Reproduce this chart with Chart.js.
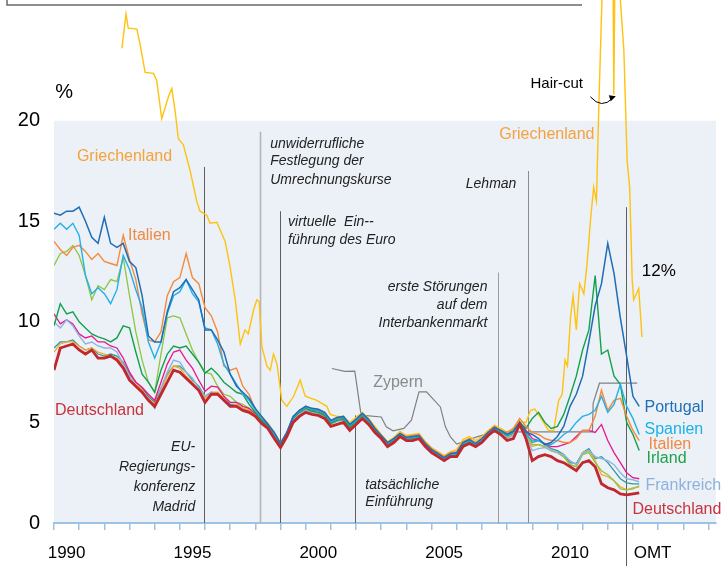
<!DOCTYPE html>
<html>
<head>
<meta charset="utf-8">
<script src="https://cdn.jsdelivr.net/npm/chart.js@4.4.0/dist/chart.umd.min.js"></script>
<style>
  html, body { margin: 0; padding: 0; background: #fff; }
  canvas { display: block; }
</style>
</head>
<body>
<canvas id="yieldChart" width="724" height="566"></canvas>
<script>
// quarterly time axis 1990.00 .. 2013.25
const quarters = [];
for (let i = 0; i <= 93; i++) quarters.push(1990 + i * 0.25);

const germany = [
  7.6, 8.7, 8.8, 8.9,   8.6, 8.4, 8.6, 8.2,   8.2, 8.3, 8.1, 7.7,   7.1, 6.8, 6.5, 6.1,
  5.8, 6.4, 7.0, 7.6,   7.5, 7.2, 6.9, 6.6,   6.0, 6.4, 6.4, 6.1,   5.8, 5.8, 5.6, 5.5,
  5.3, 4.95, 4.7, 4.2,  3.75, 4.3, 5.0, 5.3,  5.5, 5.4, 5.35, 5.2,  4.8, 4.9, 5.0, 4.6,
  4.9, 5.2, 4.9, 4.5,   4.2, 3.8, 4.0, 4.3,   4.1, 4.1, 4.2, 3.8,   3.5, 3.3, 3.1, 3.3,
  3.3, 3.8, 3.95, 3.8,  4.0, 4.35, 4.6, 4.4,  4.1, 4.2, 4.9, 4.2,   3.1, 3.3, 3.4, 3.3,
  3.1, 3.0, 2.8, 2.6,   3.0, 3.1, 2.8, 1.95,  1.75, 1.65, 1.45, 1.4, 1.45, 1.5
];
const netherlands = [
  8.5, 8.9, 9.0, 9.0,   8.8, 8.6, 8.7, 8.5,   8.4, 8.3, 8.2, 7.9,   7.3, 7.0, 6.6, 6.2,
  5.9, 6.6, 7.3, 7.8,   7.7, 7.3, 7.0, 6.6,   6.2, 6.5, 6.5, 6.2,   5.8, 5.9, 5.7, 5.6,
  5.4, 5.05, 4.8, 4.3,  3.9, 4.4, 5.15, 5.45, 5.65, 5.55, 5.5, 5.35, 4.95, 5.1, 5.15, 4.75,
  5.05, 5.35, 5.05, 4.6, 4.3, 3.95, 4.15, 4.4, 4.2, 4.25, 4.3, 3.9, 3.6, 3.4, 3.2, 3.4,
  3.4, 3.9, 4.05, 3.85, 4.05, 4.4, 4.7, 4.5,  4.25, 4.4, 5.0, 4.4,  3.8, 3.9, 3.8, 3.6,
  3.5, 3.3, 2.9, 2.8,   3.5, 3.6, 3.1, 2.4,   2.3, 2.1, 1.8, 1.65,  1.75, 1.8
];
const austria = [
  8.7, 9.0, 9.0, 9.1,   8.8, 8.6, 8.7, 8.4,   8.3, 8.4, 8.3, 8.0,   7.4, 7.0, 6.7, 6.3,
  6.0, 6.7, 7.4, 7.8,   7.8, 7.5, 7.1, 6.8,   6.3, 6.5, 6.4, 6.2,   5.9, 5.9, 5.7, 5.6,
  5.4, 5.1, 4.8, 4.3,   3.9, 4.45, 5.2, 5.5,  5.7, 5.6, 5.55, 5.4,  5.0, 5.15, 5.2, 4.8,
  5.1, 5.35, 5.05, 4.6, 4.3, 3.95, 4.15, 4.45, 4.25, 4.25, 4.35, 3.95, 3.6, 3.4, 3.2, 3.4,
  3.4, 3.95, 4.1, 3.9,  4.1, 4.45, 4.75, 4.55, 4.3, 4.45, 5.05, 4.5, 4.0, 4.1, 3.9, 3.7,
  3.6, 3.4, 3.0, 2.95,  3.5, 3.7, 3.2, 3.3,   3.0, 2.6, 2.2, 2.0,   1.95, 1.95
];
const belgium = [
  10.4, 9.9, 10.1, 9.9, 9.4, 9.2, 9.3, 9.0,   9.0, 8.8, 8.7, 8.2,   7.5, 7.0, 6.75, 6.4,
  6.1, 7.0, 7.9, 8.5,   8.6, 8.1, 7.7, 7.1,   6.55, 6.8, 6.75, 6.3, 6.0, 6.0, 5.8, 5.7,
  5.45, 5.15, 4.9, 4.4, 3.95, 4.5, 5.25, 5.55, 5.8, 5.65, 5.6, 5.45, 5.05, 5.2, 5.25, 4.85,
  5.1, 5.4, 5.1, 4.65, 4.35, 4.0, 4.2, 4.45, 4.25, 4.3, 4.35, 3.95, 3.65, 3.45, 3.25, 3.45,
  3.45, 3.95, 4.1, 3.9, 4.1, 4.45, 4.75, 4.55, 4.35, 4.5, 5.0, 4.6, 4.2, 4.1, 3.95, 3.8,
  3.8, 3.9, 4.0, 4.3,   4.6, 4.6, 4.5, 4.9,   4.1, 3.5, 3.0, 2.5,   2.25, 2.2
];
const france = [
  10.0, 9.7, 10.1, 9.8, 9.3, 8.9, 9.0, 8.8,   8.7, 8.7, 8.5, 7.9,   7.3, 6.85, 6.5, 6.2,
  5.7, 6.7, 7.5, 8.1,   8.0, 7.5, 7.2, 6.7,   6.3, 6.5, 6.4, 6.1,   5.8, 5.85, 5.6, 5.5,
  5.3, 5.0, 4.8, 4.25,  3.85, 4.35, 5.1, 5.4, 5.6, 5.5, 5.45, 5.3,  4.9, 5.05, 5.1, 4.7,
  5.0, 5.3, 5.0, 4.55,  4.25, 3.9, 4.1, 4.35, 4.15, 4.2, 4.25, 3.85, 3.55, 3.35, 3.15, 3.35,
  3.35, 3.9, 4.05, 3.85, 4.05, 4.4, 4.7, 4.45, 4.2, 4.35, 4.95, 4.35, 3.6, 3.7, 3.75, 3.6,
  3.5, 3.4, 3.1, 2.9,   3.45, 3.6, 3.3, 3.2,  3.1, 2.9, 2.5, 2.2,   2.15, 2.05
];
const finland = [
  12.8, 13.4, 13.5, 13.8, 13.3, 12.3, 11.1, 11.8, 11.6, 12.1, 12.0, 13.2, 11.3, 9.5, 8.1, 7.0,
  6.5, 8.4, 10.2, 10.3, 10.2, 9.4, 8.6, 8.0,  7.5, 7.4, 6.8, 6.4,   6.3, 6.0, 5.9, 5.7,
  5.3, 5.0, 4.75, 4.3,  3.9, 4.4, 5.2, 5.5,   5.7, 5.55, 5.5, 5.35, 4.95, 5.1, 5.15, 4.75,
  5.05, 5.35, 5.05, 4.6, 4.3, 3.9, 4.1, 4.4, 4.2, 4.2, 4.3, 3.9,   3.55, 3.3, 3.1, 3.35,
  3.4, 3.9, 4.05, 3.85, 4.05, 4.45, 4.7, 4.5, 4.25, 4.4, 5.0, 4.45, 3.9, 3.9, 3.8, 3.6,
  3.5, 3.3, 2.9, 2.8,   3.4, 3.5, 3.0, 2.6,   2.4, 2.1, 1.7, 1.65,  1.7, 1.85
];
const ireland = [
  9.8, 10.9, 10.4, 10.5, 10.0, 9.7, 9.4, 9.25, 9.15, 9.0, 9.2, 9.8,  9.7, 8.5, 7.4, 7.0,
  6.5, 7.6, 8.4, 8.8,   8.7, 8.8, 8.4, 8.0,   7.45, 7.7, 7.4, 7.0,  6.75, 6.5, 6.4, 5.9,
  5.5, 5.1, 4.8, 4.3,   3.9, 4.4, 5.2, 5.5,   5.7, 5.55, 5.5, 5.35, 4.95, 5.1, 5.15, 4.75,
  5.05, 5.35, 5.05, 4.6, 4.3, 3.9, 4.1, 4.4, 4.2, 4.2, 4.3, 3.9,   3.55, 3.3, 3.1, 3.35,
  3.4, 3.9, 4.05, 3.85, 4.1, 4.45, 4.75, 4.5, 4.4, 4.6, 5.0, 4.7,   5.2, 5.5, 5.0, 4.7,
  4.8, 5.4, 6.3, 7.3,   8.6, 9.6, 12.3, 8.4,  8.6, 7.3, 6.9, 5.0,   4.4, 3.6
];
const italy = [
  14.0, 13.6, 13.3, 13.7, 13.8, 13.5, 13.1, 13.4, 13.0, 12.9, 12.8, 14.3, 13.1, 12.1, 10.4, 9.1,
  9.0, 9.5, 11.3, 12.0, 12.2, 13.4, 12.2, 11.9, 10.7, 10.3, 9.5, 7.8, 7.6, 7.7, 6.8, 6.4,
  5.6, 5.3, 4.95, 4.5,  4.0, 4.5, 5.3, 5.6,   5.8, 5.7, 5.65, 5.5,  5.1, 5.25, 5.3, 4.9,
  5.15, 5.45, 5.15, 4.7, 4.35, 4.0, 4.2, 4.45, 4.3, 4.35, 4.4, 4.0, 3.7, 3.5, 3.3, 3.5,
  3.55, 4.05, 4.2, 4.0, 4.2, 4.55, 4.8, 4.6, 4.5, 4.7, 5.2, 4.8,   4.5, 4.4, 4.2, 4.1,
  4.1, 4.0, 4.0, 4.2,   4.6, 4.6, 5.3, 6.6,   5.6, 6.1, 6.2, 5.3,   4.6, 4.1
];
const spain = [
  14.6, 14.9, 14.6, 14.9, 14.3, 12.3, 11.4, 11.7, 11.4, 10.9, 11.6, 13.3, 12.6, 11.6, 10.7, 9.0,
  8.2, 9.0, 10.4, 11.3, 11.5, 12.1, 11.4, 11.0, 9.7, 9.6, 8.9, 7.9,  7.4, 6.9, 6.4, 6.1,
  5.6, 5.2, 4.9, 4.4,   3.95, 4.45, 5.25, 5.55, 5.75, 5.65, 5.6, 5.45, 5.05, 5.2, 5.25, 4.85,
  5.1, 5.4, 5.1, 4.65,  4.3, 3.95, 4.15, 4.4, 4.2, 4.25, 4.3, 3.9,  3.6, 3.4, 3.2, 3.4,
  3.45, 3.95, 4.1, 3.9, 4.1, 4.45, 4.75, 4.55, 4.35, 4.5, 5.0, 4.4, 4.1, 4.1, 3.9, 3.9,
  4.1, 4.4, 4.6, 5.0,   5.3, 5.4, 5.6, 6.3,   5.5, 5.9, 6.9, 5.8,   5.2, 4.4
];
const portugal = [
  15.4, 15.3, 15.5, 15.5, 15.7, 15.0, 14.2, 13.9, 15.2, 13.9, 13.7, 13.9, 13.0, 12.7, 11.3, 9.3,
  9.0, 9.0, 10.5, 11.5, 11.7, 12.1, 11.6, 11.1, 9.6, 9.6, 9.1, 8.5,  7.4, 6.8, 6.5, 6.2,
  5.7, 5.3, 4.9, 4.5,   3.95, 4.5, 5.3, 5.6,  5.8, 5.7, 5.65, 5.5,  5.1, 5.25, 5.3, 4.9,
  5.15, 5.45, 5.15, 4.7, 4.35, 4.0, 4.2, 4.45, 4.25, 4.3, 4.35, 3.95, 3.65, 3.45, 3.25, 3.45,
  3.5, 4.0, 4.15, 3.95, 4.2, 4.5, 4.75, 4.6, 4.4, 4.55, 5.0, 4.5,   4.4, 4.2, 3.9, 4.0,
  4.3, 4.8, 5.8, 6.4,   7.3, 9.0, 10.8, 11.9, 13.9, 12.4, 10.2, 8.3, 6.3, 5.8
];

// Greece and Cyprus read point by point (own dates)
const greeceYears = [
  1992.70, 1992.86, 1992.95, 1993.29, 1993.42, 1993.62, 1993.95, 1994.08, 1994.28, 1994.55,
  1994.68, 1994.81, 1994.94, 1995.14, 1995.41, 1995.67, 1995.80, 1996.07, 1996.20, 1996.47,
  1996.80, 1997.00, 1997.20, 1997.40, 1997.59, 1997.72, 1997.93, 1998.06, 1998.15, 1998.26,
  1998.46, 1998.59, 1998.72, 1998.86, 1999.05, 1999.25, 1999.52, 1999.78, 1999.98, 2000.44,
  2000.84, 2000.97, 2001.25, 2001.50, 2001.75, 2002.00, 2002.25, 2002.50, 2002.75, 2003.00,
  2003.25, 2003.50, 2003.75, 2004.00, 2004.25, 2004.50, 2004.75, 2005.00, 2005.25, 2005.50,
  2005.75, 2006.00, 2006.25, 2006.50, 2006.75, 2007.00, 2007.25, 2007.50, 2007.75, 2008.00,
  2008.25, 2008.46, 2008.75, 2008.93, 2009.10, 2009.35, 2009.65, 2009.85, 2010.05, 2010.19,
  2010.30, 2010.40, 2010.52, 2010.62, 2010.75, 2010.88, 2011.05, 2011.18, 2011.31, 2011.44,
  2011.55, 2011.64, 2011.78, 2011.95, 2012.10, 2012.20, 2012.24, 2012.29, 2012.40, 2012.50,
  2012.64, 2012.77, 2012.87, 2012.97, 2013.03, 2013.23, 2013.36
];
const greeceValues = [
  23.6, 25.3, 24.6, 24.55, 23.8, 22.4, 22.35, 22.0, 20.1, 21.2,
  21.6, 20.5, 19.1, 18.8, 17.5, 16.0, 15.5, 15.3, 14.9, 14.95,
  14.0, 12.7, 11.1, 8.9, 9.6, 9.4, 10.6, 11.1, 11.0, 8.75,
  7.8, 7.6, 8.4, 7.9, 6.1, 5.8, 6.3, 7.1, 6.3, 6.1,
  5.8, 5.4, 5.3, 5.3, 5.0, 5.25, 5.5, 5.2, 4.8, 4.4,
  4.05, 4.25, 4.55, 4.35, 4.4, 4.45, 4.05, 3.75, 3.55, 3.35,
  3.55, 3.65, 4.15, 4.3, 4.1, 4.3, 4.6, 4.85, 4.7, 4.5,
  4.7, 5.03, 5.0, 5.6, 5.66, 5.2, 4.6, 4.6, 6.1, 6.4,
  8.1, 7.8, 10.2, 11.3, 9.6, 11.9, 11.4, 12.9, 15.0, 16.7,
  16.0, 20.5, 26.5, 30.0, 31.0, 29.0, 21.3, 28.0, 27.0, 26.0,
  23.5, 18.0, 16.7, 12.1, 11.1, 11.65, 9.25
];
const cyprusYears = [
  2001.04, 2001.55, 2001.95, 2002.20, 2003.00, 2003.20, 2003.47, 2003.90, 2004.20, 2004.50,
  2004.80, 2005.35, 2005.55, 2005.75, 2006.00, 2006.80, 2007.47, 2011.39, 2011.42, 2011.67, 2013.17
];
const cyprusValues = [
  7.68, 7.54, 7.55, 5.36, 5.27, 4.78, 4.58, 4.7, 5.11, 6.52,
  6.52, 5.77, 4.78, 4.28, 3.92, 4.28, 4.53, 4.53, 5.96, 6.95, 6.95
];

// axis ticks
const yTicks = [0, 5, 10, 15, 20];
const yearMarks = [];
for (let yr = 1990; yr <= 2016; yr++) yearMarks.push(yr);
const xLabelPos = [1990.5, 1995.5, 2000.5, 2005.5, 2010.5, 2013.78];
const xLabelText = ["1990", "1995", "2000", "2005", "2010", "OMT"];

// events: date, top of line (in %)
const eventDates = [1995.96, 1998.2, 1998.99, 2001.97, 2007.65, 2008.85, 2012.74];
const eventTops = [17.7, 19.45, 15.5, 5.35, 12.45, 17.5, 15.7];
const eventColors = ["#5e5e5e", "#b4b4b4", "#5e5e5e", "#5e5e5e", "#9c9c9c", "#8c8c8c", "#5e5e5e"];

const FONT = "'Liberation Sans', Arial, sans-serif";

const notes = [
  { t: 1995.61, v: [3.77, 2.78, 1.79, 0.79], align: "right", lines: ["EU-", "Regierungs-", "konferenz", "Madrid"] },
  { t: 1998.59, v: [18.86, 17.97, 17.07], align: "left", lines: ["unwiderrufliche", "Festlegung der", "Umrechnungskurse"] },
  { t: 1999.30, v: [14.94, 14.04], align: "left", lines: ["virtuelle  Ein--", "führung des Euro"] },
  { t: 2007.22, v: [11.71, 10.82, 9.93], align: "right", lines: ["erste Störungen", "auf dem", "Interbankenmarkt"] },
  { t: 2002.37, v: [1.89, 1.04], align: "left", lines: ["tatsächliche", "Einführung"] },
  { t: 2008.37, v: [16.87], align: "right", lines: ["Lehman"] }
];

const countryLabels = [
  { t: 1990.91, v: 18.21, text: "Griechenland", color: "#f5a23a" },
  { t: 2007.69, v: 19.30, text: "Griechenland", color: "#f5a23a" },
  { t: 1992.94, v: 14.29, text: "Italien", color: "#f08a40" },
  { t: 1990.04, v: 5.61, text: "Deutschland", color: "#c8323c" },
  { t: 2002.68, v: 7.00, text: "Zypern", color: "#8a8a8a" },
  { t: 2013.46, v: 5.76, text: "Portugal", color: "#1f6fb8" },
  { t: 2013.46, v: 4.62, text: "Spanien", color: "#1cb1e6" },
  { t: 2013.62, v: 3.92, text: "Italien", color: "#f08a40" },
  { t: 2013.54, v: 3.18, text: "Irland", color: "#20a04a" },
  { t: 2013.50, v: 1.84, text: "Frankreich", color: "#8eb1dd" },
  { t: 2012.98, v: 0.69, text: "Deutschland", color: "#c8323c" }
];

function onQuarters(values) {
  return values.map((v, i) => ({ x: quarters[i], y: v }));
}
function onDates(dates, values) {
  return dates.map((t, i) => ({ x: t, y: values[i] }));
}

// keep Chart.js from reserving room for tick labels at the ends
function noPad(s) {
  s.paddingTop = 0;
  s.paddingBottom = 0;
  s.paddingLeft = 0;
  s.paddingRight = 0;
}

const decor = {
  id: "decor",
  beforeDraw(chart) {
    const { ctx, scales: { x, y }, chartArea } = chart;
    ctx.save();
    ctx.fillStyle = "#ecf1f8";
    const top = y.getPixelForValue(20);
    ctx.fillRect(x.getPixelForValue(1990), top, chartArea.right - x.getPixelForValue(1990), y.getPixelForValue(0) - top);
    // remains of an outer frame at the top
    ctx.strokeStyle = "#6a6a6a";
    ctx.lineWidth = 1.5;
    ctx.beginPath();
    ctx.moveTo(7, 0);
    ctx.lineTo(7, 5);
    ctx.lineTo(582, 5);
    ctx.stroke();
    ctx.restore();
  },
  beforeDatasetsDraw(chart) {
    const { ctx, scales: { x, y } } = chart;
    ctx.save();
    eventDates.forEach((d, i) => {
      const px = Math.round(x.getPixelForValue(d)) + 0.5;
      const bottom = i === eventDates.length - 1 ? chart.height : y.getPixelForValue(0);
      ctx.strokeStyle = eventColors[i];
      ctx.lineWidth = i === 1 ? 1.6 : 1;
      ctx.beginPath();
      ctx.moveTo(px, y.getPixelForValue(eventTops[i]));
      ctx.lineTo(px, bottom);
      ctx.stroke();
    });
    ctx.restore();
  },
  afterDraw(chart) {
    const { ctx, scales: { x, y } } = chart;
    ctx.save();
    ctx.textBaseline = "middle";

    ctx.fillStyle = "#222";
    ctx.font = "italic 14px " + FONT;
    notes.forEach(n => {
      ctx.textAlign = n.align;
      n.lines.forEach((line, i) => {
        ctx.fillText(line, x.getPixelForValue(n.t), y.getPixelForValue(n.v[i]));
      });
    });

    ctx.textAlign = "left";
    ctx.font = "16px " + FONT;
    countryLabels.forEach(c => {
      ctx.fillStyle = c.color;
      ctx.fillText(c.text, x.getPixelForValue(c.t), y.getPixelForValue(c.v));
    });

    ctx.fillStyle = "#000";
    ctx.font = "15px " + FONT;
    ctx.fillText("Hair-cut", x.getPixelForValue(2008.93), y.getPixelForValue(21.84));
    ctx.font = "17px " + FONT;
    ctx.fillText("12%", x.getPixelForValue(2013.35), y.getPixelForValue(12.51));
    ctx.font = "20px " + FONT;
    ctx.textAlign = "center";
    ctx.fillText("%", x.getPixelForValue(1990.4), y.getPixelForValue(21.39));

    // hair-cut arrow
    const ax0 = x.getPixelForValue(2011.31), ay0 = y.getPixelForValue(21.19);
    const acx = x.getPixelForValue(2011.75), acy = y.getPixelForValue(20.55);
    const ax1 = x.getPixelForValue(2012.2), ay1 = y.getPixelForValue(21.12);
    ctx.strokeStyle = "#000";
    ctx.lineWidth = 1;
    ctx.beginPath();
    ctx.moveTo(ax0, ay0);
    ctx.quadraticCurveTo(acx, acy, ax1, ay1);
    ctx.stroke();
    ctx.beginPath();
    ctx.moveTo(ax1 + 3, ay1 - 2);
    ctx.lineTo(ax1 - 4, ay1 - 3);
    ctx.lineTo(ax1 - 2, ay1 + 3);
    ctx.closePath();
    ctx.fillStyle = "#000";
    ctx.fill();
    ctx.restore();
  }
};

function series(label, data, color, width) {
  return {
    label: label,
    data: data,
    borderColor: color,
    borderWidth: width || 1.4,
    pointRadius: 0,
    tension: 0,
    fill: false,
    xAxisID: "x",
    yAxisID: "y"
  };
}

new Chart(document.getElementById("yieldChart"), {
  type: "line",
  data: {
    datasets: [
      series("Deutschland", onQuarters(germany), "#c1272d", 2.8),
      series("Portugal", onQuarters(portugal), "#1f6db5", 1.5),
      series("Spanien", onQuarters(spain), "#22b0e6", 1.4),
      series("Italien", onQuarters(italy), "#f58a3c", 1.4),
      series("Irland", onQuarters(ireland), "#12a14a", 1.4),
      series("Griechenland", onDates(greeceYears, greeceValues), "#ffc20e", 1.4),
      series("Frankreich", onQuarters(france), "#8eb3e0", 1.4),
      series("Belgien", onQuarters(belgium), "#e8188c", 1.3),
      series("Finnland", onQuarters(finland), "#8dc63f", 1.3),
      series("Niederlande", onQuarters(netherlands), "#f9a825", 1.3),
      series("Österreich", onQuarters(austria), "#2f9a9a", 1.3),
      series("Zypern", onDates(cyprusYears, cyprusValues), "#808080", 1.2)
    ]
  },
  options: {
    responsive: false,
    animation: false,
    layout: { padding: { top: 0, right: 8, bottom: 0, left: 0 } },
    plugins: {
      legend: { display: false },
      tooltip: { enabled: false }
    },
    scales: {
      x: {
        type: "linear",
        position: "bottom",
        min: 1990,
        max: 2016.3,
        afterBuildTicks: s => { s.ticks = yearMarks.map(v => ({ value: v })); },
        afterFit: s => { s.height = 8; noPad(s); },
        ticks: { display: false },
        grid: { display: true, drawOnChartArea: false, drawTicks: true, tickLength: 7, color: "#9cc2e6", lineWidth: 1.5 },
        border: { display: true, color: "#9cc2e6", width: 2 }
      },
      x2: {
        type: "linear",
        position: "bottom",
        min: 1990,
        max: 2016.3,
        afterBuildTicks: s => { s.ticks = xLabelPos.map(v => ({ value: v })); },
        afterFit: s => { s.height = 35; noPad(s); },
        ticks: {
          autoSkip: false,
          maxRotation: 0,
          padding: 12,
          color: "#000",
          font: { family: FONT, size: 17 },
          callback: v => xLabelText[xLabelPos.indexOf(v)]
        },
        grid: { display: false, drawTicks: false },
        border: { display: false }
      },
      y: {
        min: 0,
        max: 26,
        afterBuildTicks: s => { s.ticks = yTicks.map(v => ({ value: v })); },
        afterFit: s => { s.width = 54; noPad(s); },
        ticks: { padding: 14, color: "#000", font: { family: FONT, size: 20 } },
        grid: { display: false, drawTicks: false, tickLength: 0 },
        border: { display: false }
      }
    }
  },
  plugins: [decor]
});
</script>
</body>
</html>
